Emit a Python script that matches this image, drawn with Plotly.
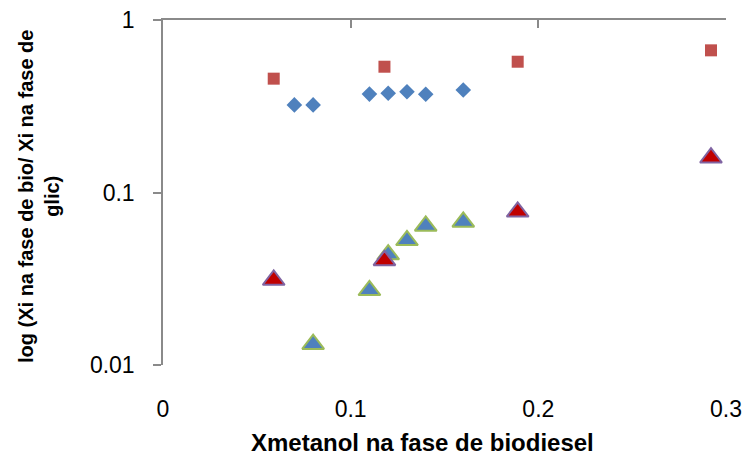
import plotly.graph_objects as go

# Xmetanol in the biodiesel phase and the partition ratio Xi(bio)/Xi(glic)
sq_x = [0.059, 0.118, 0.189, 0.292]
sq_y = [0.457, 0.536, 0.573, 0.667]

dia_x = [0.07, 0.08, 0.11, 0.12, 0.13, 0.14, 0.16]
dia_y = [0.322, 0.322, 0.372, 0.376, 0.384, 0.371, 0.393]

tri_blue_x = [0.08, 0.11, 0.12, 0.13, 0.14, 0.16]
tri_blue_y = [0.0132, 0.0271, 0.0437, 0.0528, 0.0640, 0.0675]

tri_red_x = [0.059, 0.118, 0.189, 0.292]
tri_red_y = [0.0311, 0.0404, 0.0773, 0.159]

x_ticks = [0, 0.1, 0.2, 0.3]
x_ticktext = ["0", "0.1", "0.2", "0.3"]
y_ticks = [0.01, 0.1, 1]
y_ticktext = ["0.01", "0.1", "1"]

x_title = "Xmetanol na fase de biodiesel"
y_title = "log (Xi na fase de bio/ Xi na fase de<br>glic)"

FONT = "Liberation Sans, Arial, sans-serif"
AXIS_GREY = "#8a8a8a"

fig = go.Figure()
# squares sit on the top x axis (same range as the bottom one) so that axis is drawn
fig.add_trace(go.Scatter(
    x=sq_x, y=sq_y, mode="markers", name="série 1", xaxis="x2",
    marker=dict(symbol="square", size=12, color="#C0504D", line=dict(width=0)),
))
fig.add_trace(go.Scatter(
    x=dia_x, y=dia_y, mode="markers", name="série 2",
    marker=dict(symbol="diamond", size=12, color="#4F81BD", line=dict(width=0)),
))
fig.add_trace(go.Scatter(
    x=tri_blue_x, y=tri_blue_y, mode="markers", name="série 3",
    marker=dict(symbol="triangle-up", size=19, color="#4F81BD",
                line=dict(width=2, color="#9BBB59")),
))
fig.add_trace(go.Scatter(
    x=tri_red_x, y=tri_red_y, mode="markers", name="série 4",
    marker=dict(symbol="triangle-up", size=19, color="#C00000",
                line=dict(width=2, color="#8064A2")),
))

fig.update_layout(
    width=746, height=459,
    margin=dict(l=163, r=20, t=20, b=94),
    paper_bgcolor="white", plot_bgcolor="white",
    showlegend=False,
    font=dict(family=FONT, color="#000000"),
    xaxis=dict(
        range=[0, 0.3], tickvals=x_ticks, ticktext=x_ticktext,
        showline=False, ticks="", showgrid=False, zeroline=False,
        tickfont=dict(size=23, family=FONT, color="#000000"),
        ticklabelstandoff=28, automargin=False,
    ),
    xaxis2=dict(
        overlaying="x", side="top", anchor="y", matches="x",
        range=[0, 0.3], tickvals=x_ticks[1:],
        showticklabels=False, showgrid=False, zeroline=False,
        showline=True, linecolor=AXIS_GREY, linewidth=1.5,
        ticks="inside", ticklen=8, tickwidth=1.5, tickcolor=AXIS_GREY,
        automargin=False,
    ),
    yaxis=dict(
        type="log", range=[-2, 0], tickvals=y_ticks, ticktext=y_ticktext,
        showline=True, linecolor=AXIS_GREY, linewidth=1.5,
        ticks="outside", ticklen=8, tickwidth=1.5, tickcolor=AXIS_GREY,
        showgrid=False, zeroline=False,
        tickfont=dict(size=23, family=FONT, color="#000000"),
        ticklabelstandoff=14, automargin=False,
    ),
    annotations=[
        dict(text=x_title, xref="paper", yref="paper", x=0.461, y=-0.226,
             xanchor="center", yanchor="middle", showarrow=False,
             font=dict(size=24, family=FONT, color="#000000", weight="bold")),
        dict(text=y_title, xref="paper", yref="paper", x=-0.2202, y=0.487,
             xanchor="center", yanchor="middle", showarrow=False, textangle=-90,
             align="center",
             font=dict(size=20, family=FONT, color="#000000", weight="bold")),
    ],
)

fig.write_html("out.html")
